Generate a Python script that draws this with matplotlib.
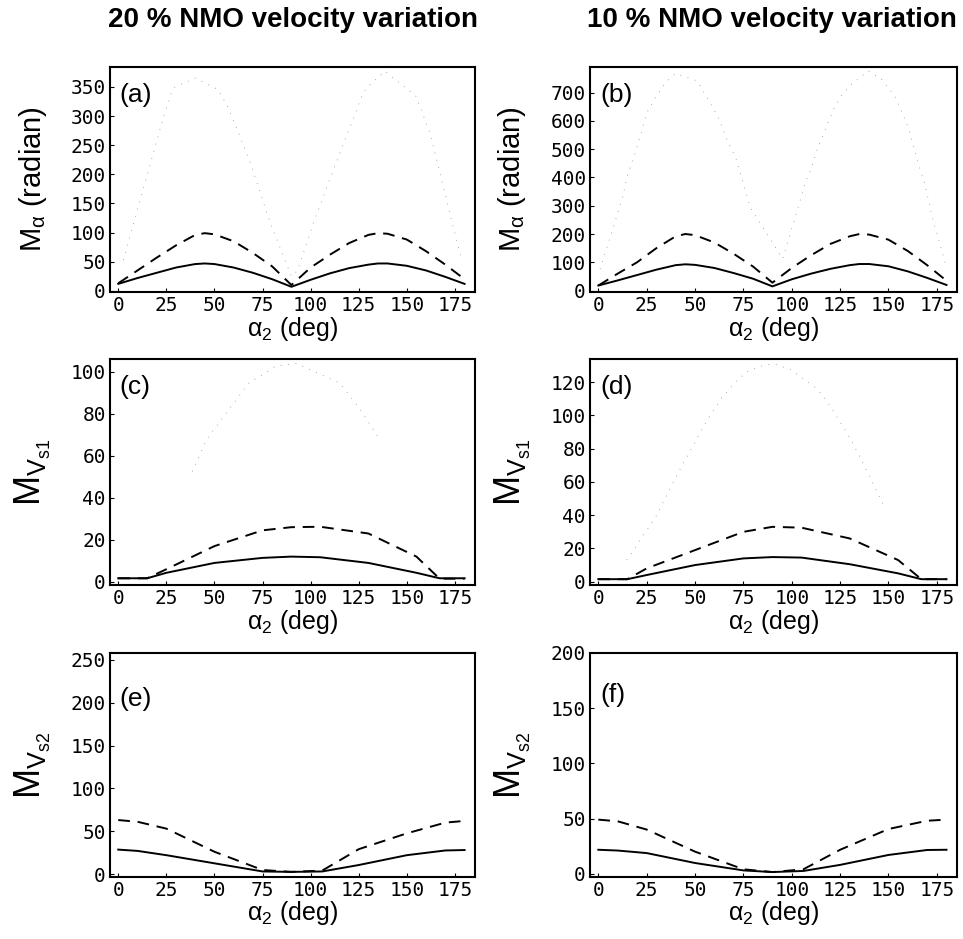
import matplotlib
matplotlib.use("Agg")
import matplotlib.pyplot as plt

plt.rcParams['font.family'] = ['Liberation Sans', 'DejaVu Sans']
plt.rcParams['mathtext.fontset'] = 'custom'
plt.rcParams['mathtext.rm'] = 'Liberation Sans'
plt.rcParams['mathtext.it'] = 'Liberation Sans:italic'

# ---- data ----
# top row: M_alpha
alpha_ab = [0, 10, 20, 30, 40, 45, 50, 60, 70, 80, 90, 100, 110, 120, 130, 135, 140, 150, 160, 170, 180]
a_solid = [12, 22, 31, 40, 46, 47, 46, 40, 31, 20, 7, 19, 30, 39, 45, 47, 47, 43, 35, 24, 12]
a_dash = [13, 35, 57, 78, 96, 99, 97, 85, 65, 42, 10, 40, 62, 82, 96, 99, 98, 88, 68, 45, 20]
a_dot_x = [2.6, 23.4, 27.7, 29.5, 40, 52, 57.2, 62.9, 69.3, 78.5, 90, 93.2, 101.4, 109.2, 114.9,
           123, 127.3, 130, 138.6, 154.7, 162, 166.8, 174.1, 178.5]
a_dot_y = [53, 297, 340, 350, 365, 345, 314, 268, 214, 121, 25, 35, 116, 185, 234,
           302, 340, 351, 377, 334, 271, 208, 110, 53]

b_solid = [18, 36, 55, 74, 90, 93, 91, 80, 62, 42, 15, 40, 60, 77, 90, 94, 94, 86, 68, 45, 20]
b_dash = [18, 60, 100, 150, 192, 200, 196, 170, 130, 85, 28, 80, 125, 165, 192, 200, 198, 180, 140, 90, 35]
b_dot_x = [0.9, 10.4, 13, 14.7, 19.1, 21.7, 25.1, 29.5, 34.7, 39.9, 51.1, 57.2, 62.4, 66.7, 71,
           78.5, 95.3, 107.4, 110, 113.5, 119.5, 122.1, 125.6, 130, 139.5, 146.4, 153.3,
           160.3, 165.5, 168.9, 172.4, 180]
b_dot_y = [76, 282, 344, 400, 488, 547, 629, 682, 735, 767, 741, 671, 606, 529, 471,
           294, 112, 388, 429, 506, 606, 647, 688, 724, 776, 747, 688,
           576, 447, 376, 265, 82]

# middle row: M_Vs1
alpha_cd = [0, 15, 25, 50, 75, 90, 105, 130, 155, 167, 180]
c_solid = [1.7, 1.7, 4.3, 9, 11.4, 12, 11.7, 9, 4.3, 1.7, 1.7]
c_dash = [1.7, 1.7, 6, 17, 24.5, 26, 26.2, 23, 12, 1.5, 1.5]
c_dot_x = [38.5, 45.9, 47.7, 68.5, 73.7, 81.4, 92, 115.2, 125.3, 134.3, 135.6]
c_dot_y = [52.5, 67.6, 70, 95.3, 97.6, 102.4, 104, 94.5, 82.6, 70, 67.2]

d_solid = [1.5, 1.5, 4, 10, 14, 14.8, 14.5, 10.5, 5, 1.5, 1.5]
d_dash = [1.5, 1.5, 8, 19, 30, 33, 32.5, 26, 13, 1.5, 1.5]
d_dot_x = [14.7, 29.5, 41.9, 56, 59.8, 63.6, 71.9, 77.1, 85.8, 91, 99.6, 112.6,
           117.8, 127.3, 130.8, 135.1, 148.5]
d_dot_y = [13, 38.6, 66.9, 96.8, 103.4, 110.4, 121.5, 126.5, 130.5, 131, 127.5, 116.5,
           109.4, 91.8, 84.9, 75.3, 43.6]

# bottom row: M_Vs2
alpha_ef = [0, 10, 25, 50, 75, 90, 106, 125, 150, 170, 180]
e_solid = [28.5, 27, 22, 12.5, 3, 2.5, 3, 10.5, 22, 27.5, 28]
e_dash = [63, 61, 53, 26, 4.7, 2.5, 4, 29, 47.5, 60, 62]
f_solid = [21.7, 21, 18.7, 9.7, 3, 1.5, 2.5, 8, 17, 21.5, 21.7]
f_dash = [49, 47.5, 40, 20, 4, 1.5, 4, 21.7, 40.5, 48, 49]

xticks = [0, 25, 50, 75, 100, 125, 150, 175]

fig = plt.figure(figsize=(9.63, 9.39), dpi=100)

cols = [(0.1142, 0.379), (0.6127, 0.381)]
rows = [(0.689, 0.2396), (0.377, 0.2407), (0.066, 0.2386)]

m_alpha = r'$\mathrm{M}_{\mathrm{\alpha}}$ (radian)'
m_vs1 = r'$\mathrm{M}_{\mathrm{V}_{\mathrm{s1}}}$'
m_vs2 = r'$\mathrm{M}_{\mathrm{V}_{\mathrm{s2}}}$'

panels = [
    dict(r=0, c=0, x=alpha_ab, s=a_solid, d=a_dash, dx=a_dot_x, dy=a_dot_y,
         ylim=(-2, 384), yt=range(0, 351, 50), lab='(a)', ly=0.93, yl=m_alpha, ys=21),
    dict(r=0, c=1, x=alpha_ab, s=b_solid, d=b_dash, dx=b_dot_x, dy=b_dot_y,
         ylim=(-5, 790), yt=range(0, 701, 100), lab='(b)', ly=0.93, yl=m_alpha, ys=21),
    dict(r=1, c=0, x=alpha_cd, s=c_solid, d=c_dash, dx=c_dot_x, dy=c_dot_y,
         ylim=(-1.5, 106), yt=range(0, 101, 20), lab='(c)', ly=0.93, yl=m_vs1, ys=26),
    dict(r=1, c=1, x=alpha_cd, s=d_solid, d=d_dash, dx=d_dot_x, dy=d_dot_y,
         ylim=(-2, 134), yt=range(0, 121, 20), lab='(d)', ly=0.93, yl=m_vs1, ys=26),
    dict(r=2, c=0, x=alpha_ef, s=e_solid, d=e_dash, dx=None, dy=None,
         ylim=(-3.5, 258), yt=range(0, 251, 50), lab='(e)', ly=0.85, yl=m_vs2, ys=26),
    dict(r=2, c=1, x=alpha_ef, s=f_solid, d=f_dash, dx=None, dy=None,
         ylim=(-3, 200), yt=range(0, 201, 50), lab='(f)', ly=0.865, yl=m_vs2, ys=26),
]

for p in panels:
    left, w = cols[p['c']]
    bottom, h = rows[p['r']]
    ax = fig.add_axes([left, bottom, w, h])
    if p['dx'] is not None:
        ax.plot(p['dx'], p['dy'], color='0.55', lw=0.6, linestyle=(0, (1, 8)))
    ax.plot(p['x'], p['d'], color='black', lw=1.4, linestyle=(0, (6, 4)))
    ax.plot(p['x'], p['s'], color='black', lw=1.4)
    ax.set_xlim(-4.3, 185.4)
    ax.set_ylim(*p['ylim'])
    ax.set_xticks(xticks)
    ax.set_yticks(list(p['yt']))
    ax.tick_params(direction='in', length=3, width=0.8, pad=3)
    for lbl in ax.get_xticklabels() + ax.get_yticklabels():
        lbl.set_family('DejaVu Sans Mono')
        lbl.set_fontsize(14)
    for sp in ax.spines.values():
        sp.set_linewidth(1.5)
    ax.text(0.027, p['ly'], p['lab'], transform=ax.transAxes, fontsize=19,
            va='top', ha='left')
    ax.set_ylabel(p['yl'], fontsize=p['ys'], va='baseline')
    ax.yaxis.set_label_coords(-0.19, 0.5)
    ax.set_xlabel(r'$\mathrm{\alpha}_2$ (deg)', fontsize=18)
    ax.xaxis.set_label_coords(0.5, -0.10)

fig.text(0.304, 0.979, '20 % NMO velocity variation', fontsize=20,
         fontweight='bold', ha='center', va='center')
fig.text(0.802, 0.979, '10 % NMO velocity variation', fontsize=20,
         fontweight='bold', ha='center', va='center')

fig.savefig('out.png', dpi=100)
